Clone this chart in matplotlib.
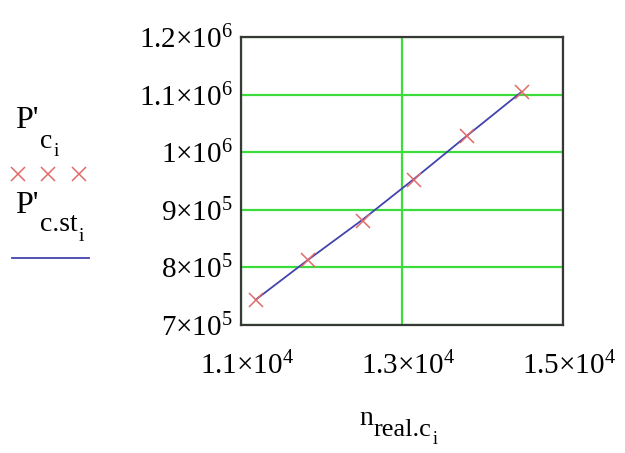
import numpy as np
import matplotlib
matplotlib.use("Agg")
import matplotlib.pyplot as plt
from matplotlib.lines import Line2D
import matplotlib.transforms as mtransforms

plt.rcParams['font.family'] = ['Liberation Serif', 'DejaVu Serif']
plt.rcParams['mathtext.fontset'] = 'custom'
plt.rcParams['mathtext.rm'] = 'Liberation Serif'
plt.rcParams['mathtext.it'] = 'Liberation Serif:italic'

# speed n_real.c_i and power values
n_real = [11183, 11836, 12512, 13149, 13811, 14487]
p_c = [743600, 812600, 880500, 952200, 1028100, 1104700]
p_c_st = [744000, 813500, 883000, 953500, 1029000, 1105000]

x_ticks = [11000, 13000, 15000]
x_labels = ["1.1×10$^{4}$", "1.3×10$^{4}$", "1.5×10$^{4}$"]
y_ticks = [700000, 800000, 900000, 1000000, 1100000, 1200000]
y_labels = ["7×10$^{5}$", "8×10$^{5}$", "9×10$^{5}$",
            "1×10$^{6}$", "1.1×10$^{6}$", "1.2×10$^{6}$"]

grid_c = '#3ddc3d'
line_c = '#4343b0'
mark_c = '#e06a6a'

fig = plt.figure(figsize=(6.25, 4.53), dpi=100)
ax = fig.add_axes([241/625, 1 - 325/453, 322/625, 288/453])

ax.plot(n_real, p_c_st, '-', color=line_c, lw=1.3, zorder=3)
ax.plot(n_real, p_c, 'x', color=mark_c, ms=10, mew=1.1, zorder=4)

ax.set_xlim(11000, 15000)
ax.set_ylim(700000, 1200000)
ax.set_xticks(x_ticks)
ax.set_xticklabels(x_labels)
ax.set_yticks(y_ticks)
ax.set_yticklabels(y_labels)
ax.tick_params(length=0, labelsize=21, pad=6)
ax.tick_params(axis='x', pad=19)
# shift the x labels a bit right like the original
off = mtransforms.ScaledTranslation(6/100, 0, fig.dpi_scale_trans)
for lab in ax.get_xticklabels():
    lab.set_transform(lab.get_transform() + off)

ax.grid(True, color=grid_c, lw=1.6)
for s in ax.spines.values():
    s.set_color('#383838')
    s.set_linewidth(1.6)
    s.set_zorder(5)


def chain(parent, s, size, dx, dy):
    # put text s right after parent, shifted down like mathcad subscripts
    return ax.annotate(s, xy=(1, 0), xycoords=parent, xytext=(dx, dy),
                       textcoords='offset points', fontsize=size,
                       ha='left', va='bottom', annotation_clip=False)


# x axis title n_real.c_i
t = fig.text(359/625, 1 - 425/453, "n", fontsize=20, va='baseline')
t = chain(t, "real.c", 19, 0.5, -7)
chain(t, "i", 13, 1, -5)

# legend on the left, mathcad style
t = fig.text(15/625, 1 - 128/453, "P'", fontsize=23, va='baseline')
t = chain(t, "c", 20, 1, -14)
chain(t, "i", 14, 1, -4)
fig.add_artist(Line2D([18/625, 48/625, 79/625], [1 - 174/453] * 3,
                      ls='none', marker='x', color=mark_c, ms=10, mew=1.1))
t = fig.text(15/625, 1 - 213/453, "P'", fontsize=23, va='baseline')
t = chain(t, "c.st", 20, 1, -12)
chain(t, "i", 14, 1, -6)
fig.add_artist(Line2D([12/625, 89/625], [1 - 258/453] * 2,
                      color=line_c, lw=1.3))

fig.savefig("out.png", dpi=100)
